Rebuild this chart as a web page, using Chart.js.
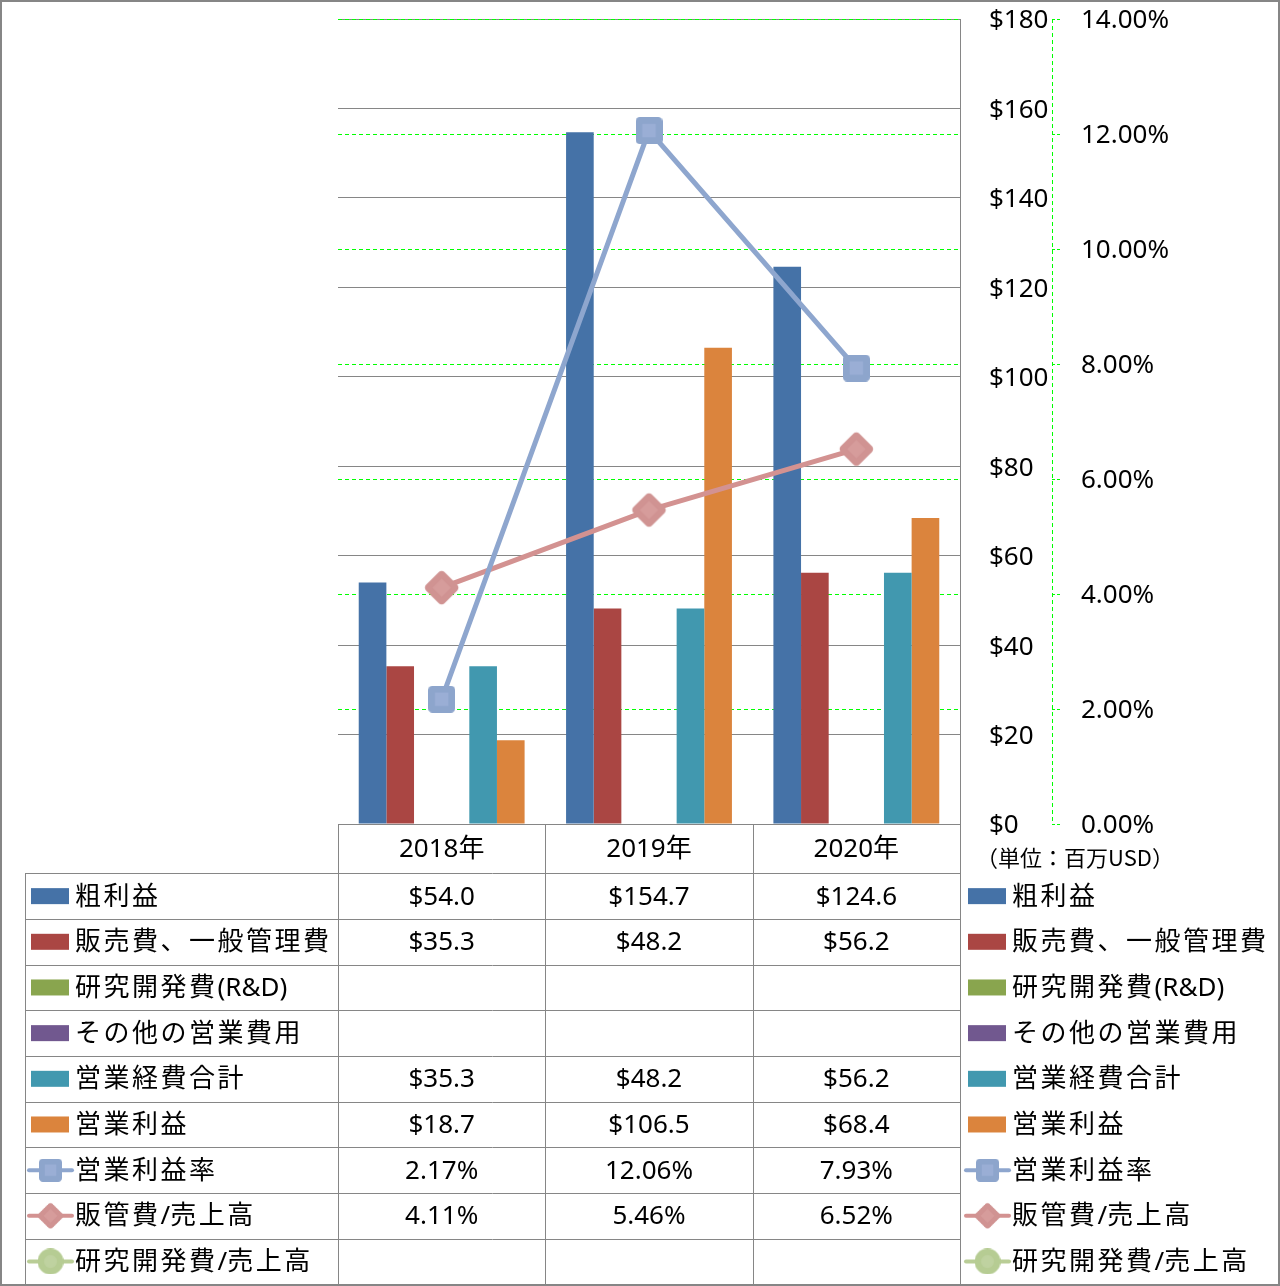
<!DOCTYPE html>
<html lang="ja">
<head>
<meta charset="utf-8">
<title>業績推移</title>
<script src="https://cdn.jsdelivr.net/npm/chart.js@4.4.1/dist/chart.umd.min.js"></script>
<style>
  html, body { margin: 0; padding: 0; background: #fff; }
  #wrap { width: 1280px; height: 1286px; }
</style>
</head>
<body>
<div id="wrap"><canvas id="chart" width="1280" height="1286"></canvas></div>
<script>
// values (million USD / percent)
const years = ["2018年", "2019年", "2020年"];
const grossProfit = [54.0, 154.7, 124.6];
const sgaExpense = [35.3, 48.2, 56.2];
const rdExpense = [null, null, null];
const otherExpense = [null, null, null];
const totalOpex = [35.3, 48.2, 56.2];
const operatingProfit = [18.7, 106.5, 68.4];
const operatingMargin = [2.17, 12.06, 7.93];
const sgaRatio = [4.11, 5.46, 6.52];
const rdRatio = [null, null, null];

const usdMin = 0, usdMax = 180, usdStep = 20;
const pctMin = 0, pctMax = 14, pctStep = 2;
const unitLabel = "（単位：百万USD）";

const GRID = "#868686";
const GREEN = "#00ff00";
const FONT = '"Noto Sans", "Noto Sans CJK JP", sans-serif';

function makeMarker(shape, size, outer, inner) {
  const c = document.createElement("canvas");
  c.width = size;
  c.height = size;
  const g = c.getContext("2d");
  g.translate(size / 2, size / 2);
  if (shape === "circle") {
    g.fillStyle = outer;
    g.beginPath();
    g.arc(0, 0, size / 2, 0, Math.PI * 2);
    g.fill();
    g.fillStyle = inner;
    g.beginPath();
    g.arc(0, 0, size / 4, 0, Math.PI * 2);
    g.fill();
    return c;
  }
  if (shape === "diamond") g.rotate(Math.PI / 4);
  const s = shape === "diamond" ? size / Math.SQRT2 : size;
  g.fillStyle = outer;
  g.beginPath();
  g.roundRect(-s / 2, -s / 2, s, s, s * 0.16);
  g.fill();
  g.fillStyle = inner;
  g.fillRect(-s / 4, -s / 4, s / 2, s / 2);
  return c;
}

const squareMark = makeMarker("square", 27, "#8da5cc", "#9aaed5");
const diamondMark = makeMarker("diamond", 37, "#d09392", "#d69c9b");
const circleMark = makeMarker("circle", 27, "#b6cc93", "#bfd2a0");

const money = (v) => (v == null ? "" : "$" + v.toFixed(1));
const pct = (v) => (v == null ? "" : v.toFixed(2) + "%");

function barSet(label, data, color) {
  return { type: "bar", label, data, backgroundColor: color, yAxisID: "y", order: 2, fmt: money };
}

function lineSet(label, data, color, mark, legendSize) {
  return {
    type: "line", label, data, yAxisID: "y2", order: 0, fmt: pct,
    borderColor: color, borderWidth: 5, tension: 0,
    pointStyle: mark, pointRadius: 14, pointHoverRadius: 14,
    mark, legendSize,
  };
}

const datasets = [
  barSet("粗利益", grossProfit, "#4572a7"),
  barSet("販売費、一般管理費", sgaExpense, "#aa4643"),
  barSet("研究開発費(R&D)", rdExpense, "#89a54e"),
  barSet("その他の営業費用", otherExpense, "#71588f"),
  barSet("営業経費合計", totalOpex, "#4198af"),
  barSet("営業利益", operatingProfit, "#db843d"),
  lineSet("営業利益率", operatingMargin, "#8ea6ce", squareMark, 23),
  lineSet("販管費/売上高", sgaRatio, "#d39291", diamondMark, 28),
  lineSet("研究開発費/売上高", rdRatio, "#b9cd96", circleMark, 26),
];

const HEADER_H = 49.3;
const ROW_H = 45.67;
const TABLE_LEFT = 25;

function drawSymbol(ctx, ds, x0, cy) {
  if (ds.type === "bar") {
    ctx.fillStyle = ds.backgroundColor;
    ctx.fillRect(x0, cy - 8, 38, 16);
    return;
  }
  ctx.strokeStyle = ds.borderColor;
  ctx.lineWidth = 4;
  ctx.lineCap = "round";
  ctx.beginPath();
  ctx.moveTo(x0 - 2, cy);
  ctx.lineTo(x0 + 41, cy);
  ctx.stroke();
  const s = ds.legendSize;
  ctx.drawImage(ds.mark, x0 + 19.5 - s / 2, cy - s / 2, s, s);
}

// wide CJK glyphs get extra tracking, latin runs stay tight
function drawLabel(ctx, text, x, y) {
  let cx = x;
  for (const ch of text) {
    ctx.fillText(ch, cx, y);
    const wide = ch.charCodeAt(0) > 0x2e80;
    cx += ctx.measureText(ch).width + (wide ? 2.5 : 0);
  }
}

const tablePlugin = {
  id: "dataTable",
  beforeDraw(chart) {
    const { ctx } = chart;
    ctx.save();
    ctx.fillStyle = "#fff";
    ctx.fillRect(0, 0, chart.width, chart.height);
    ctx.restore();
  },
  afterDraw(chart) {
    const { ctx, chartArea } = chart;
    const x = chart.scales.x;
    const y2 = chart.scales.y2;
    const half = (x.getPixelForValue(1) - x.getPixelForValue(0)) / 2;
    const top = chartArea.bottom;
    const rowsTop = top + HEADER_H;
    const sets = chart.data.datasets;
    const bottom = rowsTop + ROW_H * sets.length;

    ctx.save();
    // secondary axis line (dashed)
    ctx.strokeStyle = GREEN;
    ctx.lineWidth = 1;
    ctx.setLineDash([4, 3]);
    ctx.beginPath();
    ctx.moveTo(Math.round(y2.left) + 0.5, chartArea.top);
    ctx.lineTo(Math.round(y2.left) + 0.5, chartArea.bottom);
    ctx.stroke();
    ctx.setLineDash([]);

    // table grid
    ctx.strokeStyle = GRID;
    ctx.lineWidth = 1;
    ctx.beginPath();
    ctx.moveTo(chartArea.left, top + 0.5);
    ctx.lineTo(chartArea.right, top + 0.5);
    for (let i = 0; i <= sets.length; i += 1) {
      const yy = Math.round(rowsTop + ROW_H * i) + 0.5;
      ctx.moveTo(TABLE_LEFT, yy);
      ctx.lineTo(chartArea.right, yy);
    }
    const cols = [chartArea.left];
    years.forEach((_, i) => cols.push(x.getPixelForValue(i) + half));
    cols.forEach((cx) => {
      const xx = Math.round(cx) + 0.5;
      ctx.moveTo(xx, top);
      ctx.lineTo(xx, bottom);
    });
    ctx.moveTo(TABLE_LEFT + 0.5, rowsTop);
    ctx.lineTo(TABLE_LEFT + 0.5, bottom);
    ctx.stroke();

    // header
    ctx.fillStyle = "#000";
    ctx.textBaseline = "middle";
    ctx.textAlign = "center";
    ctx.font = `26px ${FONT}`;
    years.forEach((label, i) => ctx.fillText(label, x.getPixelForValue(i), top + HEADER_H / 2 + 1));

    // rows: symbol + label on the left, values in the columns, legend on the right
    sets.forEach((ds, r) => {
      const cy = rowsTop + ROW_H * (r + 0.5);
      drawSymbol(ctx, ds, 31, cy);
      drawSymbol(ctx, ds, 968, cy);
      ctx.fillStyle = "#000";
      ctx.textAlign = "left";
      ctx.font = `26px ${FONT}`;
      drawLabel(ctx, ds.label, 75, cy + 1);
      drawLabel(ctx, ds.label, 1012, cy + 1);
      ctx.textAlign = "center";
      ds.data.forEach((v, i) => ctx.fillText(ds.fmt(v), x.getPixelForValue(i), cy + 1));
    });

    // unit label
    ctx.font = `22px "Noto Sans CJK JP", sans-serif`;
    ctx.textAlign = "center";
    ctx.fillText(unitLabel, 1075, top + 34);

    // outer frame
    ctx.strokeStyle = GRID;
    ctx.lineWidth = 2;
    ctx.strokeRect(1, 1, chart.width - 2, chart.height - 2);
    ctx.restore();
  },
};

function fixWidth(w) {
  return (scale) => {
    scale.width = w;
    scale.paddingTop = 0;
    scale.paddingBottom = 0;
  };
}

new Chart(document.getElementById("chart"), {
  data: { labels: years, datasets },
  options: {
    responsive: false,
    devicePixelRatio: 1,
    animation: false,
    layout: { padding: { left: 338, top: 19, right: 0, bottom: 462 } },
    datasets: {
      bar: { categoryPercentage: 0.8, barPercentage: 1.0 },
    },
    plugins: {
      legend: { display: false },
      tooltip: { enabled: false },
    },
    scales: {
      x: { type: "category", display: false, offset: true },
      y: {
        position: "right",
        weight: 0,
        min: usdMin,
        max: usdMax,
        ticks: {
          stepSize: usdStep,
          padding: 29,
          labelOffset: 2,
          color: "#000",
          font: { family: FONT, size: 26 },
          callback: (v) => "$" + v,
        },
        grid: { color: GRID, lineWidth: 1, drawTicks: false },
        border: { display: true, color: GRID, width: 1 },
        afterFit: fixWidth(92),
      },
      y2: {
        position: "right",
        weight: 1,
        min: pctMin,
        max: pctMax,
        ticks: {
          stepSize: pctStep,
          padding: 19,
          labelOffset: 2,
          color: "#000",
          font: { family: FONT, size: 26 },
          callback: (v) => v.toFixed(2) + "%",
        },
        grid: {
          z: -1,
          drawOnChartArea: true,
          lineWidth: 1,
          color: GREEN,
          tickColor: GREEN,
          tickLength: 10,
          tickBorderDash: [3, 2],
        },
        border: { display: false, dash: [4, 3] },
        afterFit: fixWidth(228),
      },
    },
  },
  plugins: [tablePlugin],
});
</script>
</body>
</html>
